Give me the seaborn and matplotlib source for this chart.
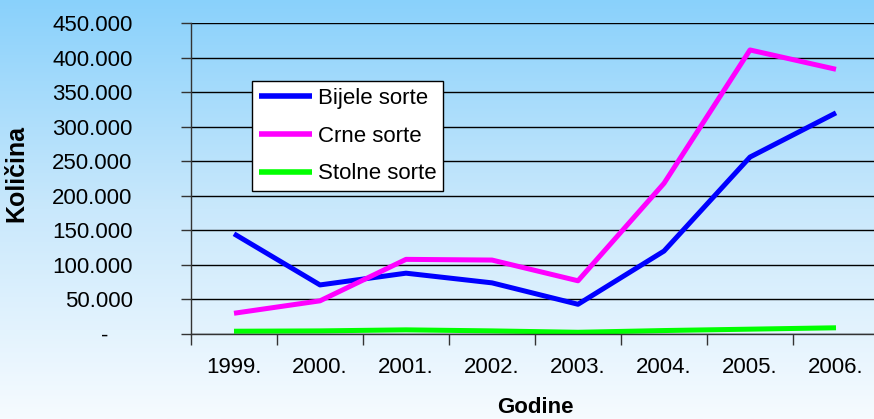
import numpy as np
import pandas as pd
import matplotlib
matplotlib.use("Agg")
import matplotlib.pyplot as plt
from matplotlib.colors import LinearSegmentedColormap
from matplotlib.ticker import FuncFormatter, FixedLocator
import seaborn as sns

years = ["1999.", "2000.", "2001.", "2002.", "2003.", "2004.", "2005.", "2006."]
bijele = [145000, 71000, 88000, 74000, 43000, 120000, 256000, 320000]
crne = [30000, 48000, 108000, 107000, 77000, 218000, 411000, 383000]
stolne = [4000, 4500, 6000, 4500, 2500, 5000, 7000, 9000]
series_names = ["Bijele sorte", "Crne sorte", "Stolne sorte"]
colors = ["#0000ff", "#ff00ff", "#00ff00"]

rows = []
for name, vals in zip(series_names, [bijele, crne, stolne]):
    for i, (y, v) in enumerate(zip(years, vals)):
        rows.append({"idx": i, "Godina": y, "Serija": name, "Kolicina": v})
df = pd.DataFrame(rows)

sns.set_theme(style="white")
plt.rcParams["font.family"] = ["Liberation Sans", "DejaVu Sans"]
plt.rcParams["text.color"] = "black"

fig = plt.figure(figsize=(8.74, 4.19), dpi=100)
# background gradient
bg = fig.add_axes([0, 0, 1, 1], zorder=-10)
cmap = LinearSegmentedColormap.from_list("bg", ["#89d1fb", "#c9e8fc", "#f6fbff"])
grad = np.linspace(0, 1, 256).reshape(-1, 1)
bg.imshow(grad, aspect="auto", cmap=cmap, extent=[0, 1, 0, 1], origin="upper")
bg.axis("off")

ax = fig.add_axes([191 / 874, 1 - 334 / 419, (879 - 191) / 874, (334 - 23) / 419])
ax.patch.set_alpha(0)

sns.lineplot(data=df, x="idx", y="Kolicina", hue="Serija", palette=colors,
             hue_order=series_names, linewidth=3.6, ax=ax, legend=True,
             solid_capstyle="butt")

ax.set_xlim(-0.5, 7.5)
ax.set_ylim(0, 450000)
ax.set_yticks(np.arange(0, 450001, 50000))
ax.yaxis.set_major_formatter(FuncFormatter(
    lambda v, p: "-\u00a0\u00a0\u00a0\u00a0" if v == 0 else f"{int(v):,}".replace(",", ".")))
ax.grid(axis="y", color="black", linewidth=1.0)
ax.grid(axis="x", visible=False)
ax.set_axisbelow(True)

ax.set_xticks(range(len(years)))
ax.set_xticklabels(years)
ax.xaxis.set_minor_locator(FixedLocator(np.arange(-0.5, 7.6, 1.0)))
ax.tick_params(axis="x", which="major", length=0, pad=16.5, labelsize=16, labelcolor="black")
ax.tick_params(axis="x", which="minor", length=8, width=1, color="#333333", direction="out", bottom=True)
ax.tick_params(axis="y", length=7, width=1, color="#333333", direction="out", left=True,
               labelsize=16, pad=35, labelcolor="black")

for s in ["top", "right"]:
    ax.spines[s].set_visible(False)
for s in ["left", "bottom"]:
    ax.spines[s].set_color("#333333")
    ax.spines[s].set_linewidth(1.0)

ax.set_xlabel("Godine", fontsize=16, fontweight="bold", color="black")
ax.set_ylabel("Količina", fontsize=18, fontweight="bold", color="black")
ax.yaxis.set_label_coords((28 - 191) / 688, 0.516)
ax.xaxis.set_label_coords((535 - 191) / 688, (334 - 397) / 311)

leg = ax.legend(loc="upper left", bbox_to_anchor=((252 - 191) / 688, 1 - (81 - 23) / 311),
                frameon=True, fancybox=False, fontsize=16, handlelength=2.4,
                borderpad=0.3, labelspacing=0.76, handletextpad=0.25, borderaxespad=0)
leg.get_frame().set_edgecolor("black")
leg.get_frame().set_linewidth(1.0)
leg.get_frame().set_facecolor("white")
leg.get_frame().set_alpha(1)
for line in leg.get_lines():
    line.set_linewidth(4)

fig.savefig("out.png", dpi=100)
